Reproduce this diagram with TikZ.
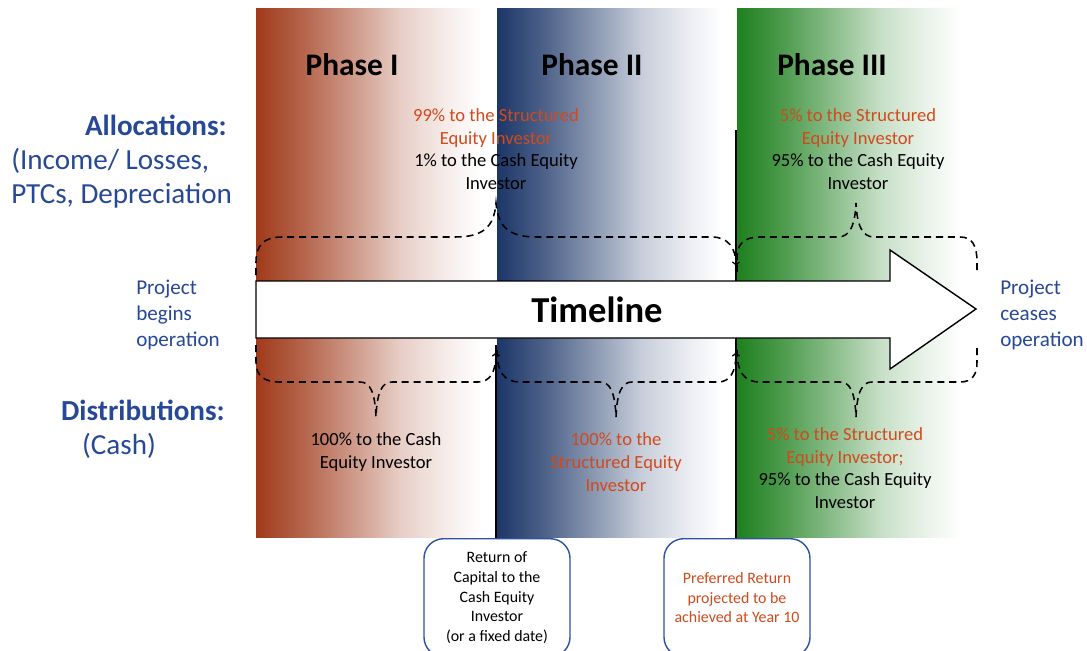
\documentclass[tikz,border=0pt]{standalone}
\usepackage{fontspec}
\setmainfont{Carlito}
\usetikzlibrary{positioning}

\definecolor{redI}{RGB}{160,58,26}
\definecolor{blueII}{RGB}{28,54,104}
\definecolor{greenIII}{RGB}{30,128,30}
\definecolor{sideblue}{RGB}{38,72,150}
\definecolor{boxblue}{RGB}{47,82,160}
\definecolor{orng}{RGB}{208,74,28}

% left-to-right fades of the three phases
\pgfdeclarehorizontalshading{fadeI}{100bp}{color(0bp)=(redI); color(25bp)=(redI); color(35bp)=(redI!78); color(45bp)=(redI!52); color(55bp)=(redI!25); color(65bp)=(redI!9); color(72bp)=(white); color(100bp)=(white)}
\pgfdeclarehorizontalshading{fadeII}{100bp}{color(0bp)=(blueII); color(25bp)=(blueII); color(35bp)=(blueII!78); color(45bp)=(blueII!52); color(55bp)=(blueII!25); color(65bp)=(blueII!9); color(72bp)=(white); color(100bp)=(white)}
\pgfdeclarehorizontalshading{fadeIII}{100bp}{color(0bp)=(greenIII); color(25bp)=(greenIII); color(35bp)=(greenIII!78); color(45bp)=(greenIII!52); color(55bp)=(greenIII!25); color(65bp)=(greenIII!9); color(72bp)=(white); color(100bp)=(white)}

\begin{document}
\begin{tikzpicture}[x=0.025cm, y=-0.025cm,
    body/.style={font=\fontsize{13.2}{16.1}\selectfont, align=center, inner sep=0pt},
    phasehead/.style={font=\fontsize{22.3}{26}\selectfont\bfseries, inner sep=0pt},
    sidehead/.style={font=\fontsize{20.7}{24}\selectfont\bfseries, text=sideblue, inner sep=0pt},
    sidetext/.style={font=\fontsize{20.7}{24}\selectfont, text=sideblue, align=left, inner sep=0pt},
    endtext/.style={font=\fontsize{15}{18.4}\selectfont, text=sideblue, align=left, inner sep=0pt},
    milestone/.style={draw=boxblue, line width=1pt, rounded corners=14pt, fill=white,
      minimum width=3.65cm, minimum height=2.95cm, align=center, inner sep=0pt,
      font=\fontsize{11.3}{14}\selectfont},
    brace/.style={line width=1.1pt, dash pattern=on 5pt off 3.5pt},
    divider/.style={line width=1.6pt}]
  \useasboundingbox (0,0) rectangle (1087,651);

  % phase bands
  \shade[shading=fadeI] (256,8) rectangle (496,537);
  \shade[shading=fadeII] (497,8) rectangle (736,537);
  \shade[shading=fadeIII] (737,8) rectangle (976,537);

  % milestone boxes
  \node[milestone, anchor=north] (retcap) at (497,538)
    {Return of\\Capital to the\\Cash Equity\\Investor\\(or a fixed date)};
  \node[milestone, anchor=north, text=orng] (prefret) at (737,538)
    {Preferred Return\\projected to be\\achieved at Year 10};
  \coordinate (capline) at (496,345);
  \coordinate (prefline) at (736,130);
  \draw[divider] (capline) -- (retcap.north -| capline);
  \draw[divider] (prefline) -- (prefret.north -| prefline);

  % braces
  \begin{scope}[brace]
    \draw[->] (256,275) -- (256,262) .. controls (256,245) and (264,237) .. (282,237)
      -- (455,237) .. controls (482,237) and (494,228) .. (496,203)
      .. controls (498,228) and (510,237) .. (537,237)
      -- (712,237) .. controls (728,237) and (736,248) .. (736,266);
    \draw (737,272) -- (737,258) .. controls (737,244) and (744,237) .. (760,237)
      -- (838,237) .. controls (850,237) and (855,225) .. (856,203)
      .. controls (857,225) and (862,237) .. (874,237)
      -- (960,237) .. controls (972,237) and (977,245) .. (977,262) -- (977,275);
    \draw[->] (256,345) -- (256,362) .. controls (256,376) and (264,382) .. (280,382)
      -- (360,382) .. controls (370,382) and (375,392) .. (376,417)
      .. controls (377,392) and (382,382) .. (392,382)
      -- (478,382) .. controls (490,382) and (496,372) .. (496,352);
    \draw[->] (497,350) .. controls (497,372) and (504,382) .. (520,382)
      -- (600,382) .. controls (610,382) and (615,392) .. (616,417)
      .. controls (617,392) and (622,382) .. (632,382)
      -- (718,382) .. controls (730,382) and (736,372) .. (736,352);
    \draw (737,350) .. controls (737,372) and (744,382) .. (760,382)
      -- (840,382) .. controls (850,382) and (855,392) .. (856,417)
      .. controls (857,392) and (862,382) .. (872,382)
      -- (960,382) .. controls (972,382) and (977,375) .. (977,362) -- (977,345);
  \end{scope}

  % timeline arrow
  \draw[line width=1pt, fill=white] (256,281) -- (890,281) -- (890,250) -- (976,309)
    -- (890,369) -- (890,338) -- (256,338) -- cycle;
  \node[font=\fontsize{26}{30}\selectfont\bfseries] (timeline) at (597,310) {Timeline};

  % phase titles
  \node[phasehead] (ph1) at (352,65) {Phase I};
  \node[phasehead] (ph2) at (592,65) {Phase II};
  \node[phasehead] (ph3) at (832,65) {Phase III};

  % allocations
  \node[body] (alloc12) at (496,149) {\textcolor{orng}{99\% to the Structured}\\
    \textcolor{orng}{Equity Investor}\\1\% to the Cash Equity\\Investor};
  \node[body] (alloc3) at (858,149) {\textcolor{orng}{5\% to the Structured}\\
    \textcolor{orng}{Equity Investor}\\95\% to the Cash Equity\\Investor};

  % distributions
  \node[body] (dist1) at (376,452) {100\% to the Cash\\Equity Investor};
  \node[body, text=orng] (dist2) at (616,462) {100\% to the\\Structured Equity\\Investor};
  \node[body] (dist3) at (845,468) {\textcolor{orng}{5\% to the Structured}\\
    \textcolor{orng}{Equity Investor;}\\95\% to the Cash Equity\\Investor};

  % side labels
  \node[sidehead, anchor=east] (allochead) at (227,125) {Allocations:};
  \node[sidetext, anchor=west] (allocwhat) at (11,178) {(Income/ Losses,\\PTCs, Depreciation};
  \node[sidehead, anchor=east] (disthead) at (225,410) {Distributions:};
  \node[sidetext] (distwhat) at (119,446) {(Cash)};
  \node[endtext, anchor=west] (begins) at (136,315) {Project\\begins\\operation};
  \node[endtext, anchor=west] (ceases) at (1000,315) {Project\\ceases\\operation};
\end{tikzpicture}
\end{document}
